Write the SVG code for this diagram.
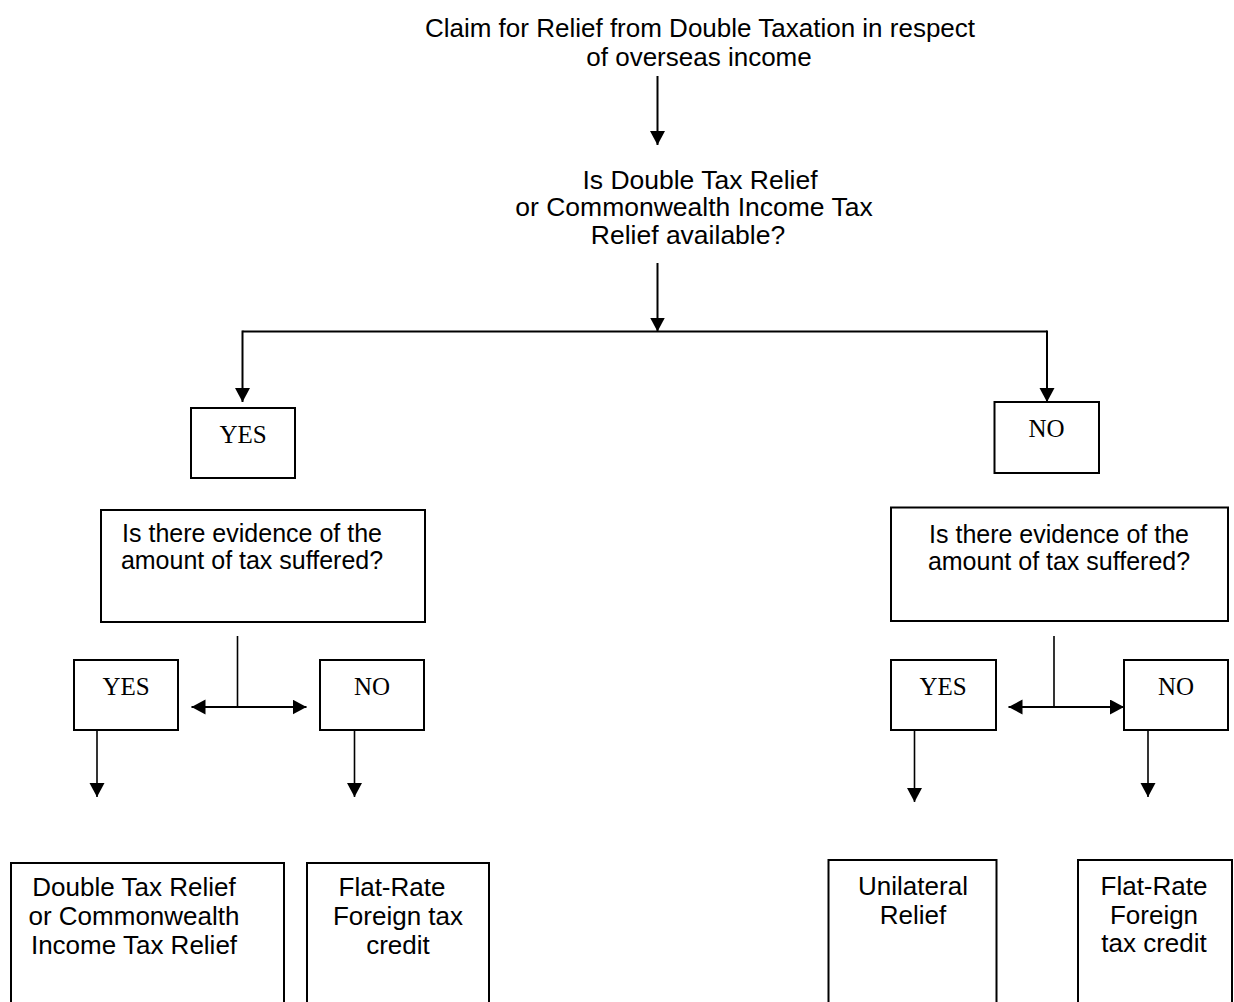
<svg xmlns="http://www.w3.org/2000/svg" width="1234" height="1002" viewBox="0 0 1234 1002">
<style>
.box{fill:#fff;stroke:#000;stroke-width:2}
.t{font-family:"Liberation Sans",Arial,sans-serif;font-size:25px;fill:#000;text-anchor:middle}
.tb{font-family:"Liberation Sans",Arial,sans-serif;font-size:26px;fill:#000;text-anchor:middle}
.tt{font-family:"Liberation Sans",Arial,sans-serif;font-size:26px;fill:#000;text-anchor:middle}
.tq{font-family:"Liberation Sans",Arial,sans-serif;font-size:26.5px;fill:#000;text-anchor:middle}
.s{font-family:"Liberation Serif","Times New Roman",serif;font-size:25px;fill:#000;text-anchor:middle}
.c{fill:none;stroke:#000;stroke-width:2}
.c2{fill:none;stroke:#000;stroke-width:1.6}
</style>
<defs>
<marker id="ah" markerUnits="userSpaceOnUse" markerWidth="16" markerHeight="16" refX="14" refY="7.5" orient="auto">
<path d="M0,0 L14,7.5 L0,15 Z" fill="#000"/>
</marker>
<marker id="ahs" markerUnits="userSpaceOnUse" markerWidth="16" markerHeight="16" refX="14" refY="7.5" orient="auto-start-reverse">
<path d="M0,0 L14,7.5 L0,15 Z" fill="#000"/>
</marker>
</defs>
<rect width="1234" height="1002" fill="#fff"/>
<g id="connectors">
<line class="c" x1="657.5" y1="76" x2="657.5" y2="145" marker-end="url(#ah)"/>
<line class="c" x1="657.5" y1="263" x2="657.5" y2="331.5" marker-end="url(#ah)"/>
<line class="c" x1="242.5" y1="331.5" x2="1047" y2="331.5"/>
<line class="c" x1="242.5" y1="330.5" x2="242.5" y2="402" marker-end="url(#ah)"/>
<line class="c" x1="1047" y1="330.5" x2="1047" y2="402" marker-end="url(#ah)"/>
<line class="c2" x1="237.5" y1="636" x2="237.5" y2="707"/>
<line class="c" x1="191.5" y1="707" x2="306.5" y2="707" marker-start="url(#ahs)" marker-end="url(#ahs)"/>
<line class="c2" x1="97" y1="730" x2="97" y2="797" marker-end="url(#ahs)"/>
<line class="c2" x1="354.5" y1="730" x2="354.5" y2="797" marker-end="url(#ahs)"/>
<line class="c2" x1="1054" y1="636" x2="1054" y2="707"/>
<line class="c" x1="1008.5" y1="707" x2="1124" y2="707" marker-start="url(#ahs)" marker-end="url(#ahs)"/>
<line class="c2" x1="914.5" y1="730" x2="914.5" y2="802" marker-end="url(#ahs)"/>
<line class="c2" x1="1148" y1="730" x2="1148" y2="797" marker-end="url(#ahs)"/>
</g>
<g id="title">
<text class="tt" x="700" y="36.5">Claim for Relief from Double Taxation in respect</text>
<text class="tt" x="699" y="65.5">of overseas income</text>
</g>
<g id="question">
<text class="tq" x="700" y="188.5">Is Double Tax Relief</text>
<text class="tq" x="694" y="216">or Commonwealth Income Tax</text>
<text class="tq" x="688" y="243.5">Relief available?</text>
</g>
<g id="yes-top">
<rect class="box" x="191" y="408" width="104" height="70"/>
<text class="s" x="243" y="443">YES</text>
</g>
<g id="no-top">
<rect class="box" x="994.5" y="402" width="104.5" height="71"/>
<text class="s" x="1046.5" y="437">NO</text>
</g>
<g id="evidence-left">
<rect class="box" x="101" y="510" width="324" height="112"/>
<text class="t" x="252" y="541.5">Is there evidence of the</text>
<text class="t" x="252" y="568.5">amount of tax suffered?</text>
</g>
<g id="evidence-right">
<rect class="box" x="891" y="507.5" width="337" height="113.5"/>
<text class="t" x="1059" y="543">Is there evidence of the</text>
<text class="t" x="1059" y="570">amount of tax suffered?</text>
</g>
<g id="yes-left">
<rect class="box" x="74" y="660" width="104" height="70"/>
<text class="s" x="126" y="695">YES</text>
</g>
<g id="no-left">
<rect class="box" x="320" y="660" width="104" height="70"/>
<text class="s" x="372" y="695">NO</text>
</g>
<g id="yes-right">
<rect class="box" x="891" y="660" width="105" height="70"/>
<text class="s" x="943" y="695">YES</text>
</g>
<g id="no-right">
<rect class="box" x="1124" y="660" width="104" height="70"/>
<text class="s" x="1176" y="695">NO</text>
</g>
<g id="dtr-result">
<rect class="box" x="11" y="863" width="273" height="160"/>
<text class="tb" x="134" y="896">Double Tax Relief</text>
<text class="tb" x="134" y="925">or Commonwealth</text>
<text class="tb" x="134" y="954">Income Tax Relief</text>
</g>
<g id="frftc-left">
<rect class="box" x="307" y="863" width="182" height="160"/>
<text class="tb" x="392" y="896">Flat-Rate</text>
<text class="tb" x="398" y="925">Foreign tax</text>
<text class="tb" x="398" y="954">credit</text>
</g>
<g id="unilateral">
<rect class="box" x="828.5" y="860" width="168" height="160"/>
<text class="tb" x="913" y="895">Unilateral</text>
<text class="tb" x="913" y="923.5">Relief</text>
</g>
<g id="frftc-right">
<rect class="box" x="1078" y="860" width="154" height="160"/>
<text class="tb" x="1154" y="895">Flat-Rate</text>
<text class="tb" x="1154" y="923.5">Foreign</text>
<text class="tb" x="1154" y="952">tax credit</text>
</g>
</svg>
